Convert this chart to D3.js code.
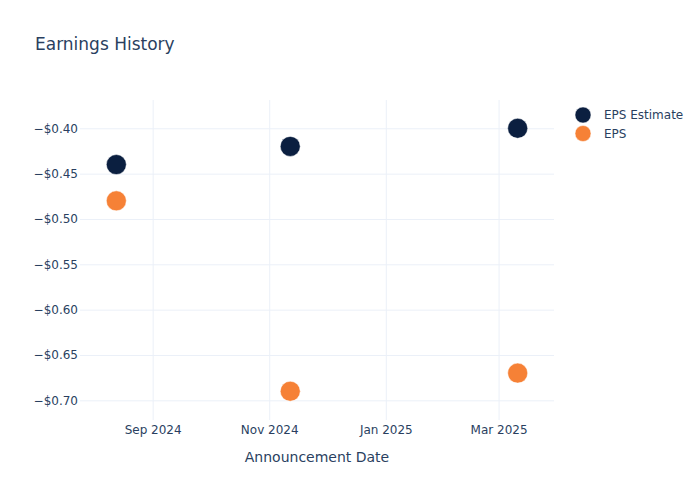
<!DOCTYPE html>
<html>
<head>
<meta charset="utf-8">
<script src="https://cdn.jsdelivr.net/npm/d3@7"></script>
<style>
  body { margin: 0; background: #fff; }
  svg { font-family: "DejaVu Sans", Verdana, sans-serif; }
</style>
</head>
<body>
<svg id="chart" width="700" height="500"></svg>
<script>
// ---- data ----
const dates = ["2024-08-13", "2024-11-12", "2025-03-11"];
const epsEstimate = [-0.44, -0.42, -0.40];
const epsActual = [-0.48, -0.69, -0.67];
const yTicks = [-0.40, -0.45, -0.50, -0.55, -0.60, -0.65, -0.70];
const xTicks = ["2024-09-01", "2024-11-01", "2025-01-01", "2025-03-01"];
const seriesNames = ["EPS Estimate", "EPS"];
const seriesColors = ["#0b1f40", "#f68136"];

// ---- layout ----
const margin = { left: 80, right: 146, top: 100, bottom: 80 };
const W = 700, H = 500;
const parse = d3.utcParse("%Y-%m-%d");
const svg = d3.select("#chart");
const textColor = "#2a3f5f";
const gridColor = "#ebf0f8";

const x = d3.scaleUtc()
  .domain([parse("2024-07-25"), parse("2025-03-30")])
  .range([margin.left, W - margin.right]);
const y = d3.scaleLinear()
  .domain([-0.7217, -0.3688])
  .range([H - margin.bottom, margin.top]);

// grid
const xAxis = d3.axisBottom(x)
  .tickValues(xTicks.map(parse))
  .tickFormat(d3.utcFormat("%b %Y"))
  .tickSize(-(H - margin.top - margin.bottom))
  .tickPadding(5);
const gx = svg.append("g")
  .attr("transform", `translate(0,${H - margin.bottom})`)
  .call(xAxis);
gx.select(".domain").remove();
gx.selectAll(".tick line").attr("stroke", gridColor).attr("stroke-width", 1);
gx.selectAll(".tick text").attr("fill", textColor).attr("font-size", 12)
  .attr("font-family", "DejaVu Sans, sans-serif");

const fmt = d => "\u2212$" + Math.abs(d).toFixed(2);
const yAxis = d3.axisLeft(y)
  .tickValues(yTicks)
  .tickFormat(fmt)
  .tickSize(-(W - margin.left - margin.right))
  .tickPadding(2);
const gy = svg.append("g")
  .attr("transform", `translate(${margin.left},0)`)
  .call(yAxis);
gy.select(".domain").remove();
gy.selectAll(".tick line").attr("stroke", gridColor).attr("stroke-width", 1);
gy.selectAll(".tick text").attr("fill", textColor).attr("font-size", 12)
  .attr("font-family", "DejaVu Sans, sans-serif");

// points
const series = [epsEstimate, epsActual];
series.forEach((vals, si) => {
  svg.append("g").selectAll("circle")
    .data(vals.map((v, i) => ({ d: parse(dates[i]), v })))
    .join("circle")
    .attr("cx", p => x(p.d))
    .attr("cy", p => y(p.v))
    .attr("r", 10)
    .attr("fill", seriesColors[si])
    .attr("stroke", "#fff")
    .attr("stroke-width", 0.5);
});

// title
svg.append("text")
  .attr("x", 35).attr("y", 50)
  .attr("fill", textColor)
  .attr("font-size", 17)
  .text("Earnings History");

// x axis title
svg.append("text")
  .attr("x", (margin.left + W - margin.right) / 2)
  .attr("y", 461.5)
  .attr("text-anchor", "middle")
  .attr("fill", textColor)
  .attr("font-size", 14)
  .text("Announcement Date");

// legend
const lg = svg.append("g");
seriesNames.forEach((name, i) => {
  const cy = 115 + i * 18.5;
  lg.append("circle").attr("cx", 583).attr("cy", cy).attr("r", 8)
    .attr("fill", seriesColors[i]).attr("stroke", "#fff").attr("stroke-width", 0.5);
  lg.append("text").attr("x", 604).attr("y", cy + 4)
    .attr("fill", textColor).attr("font-size", 12).text(name);
});
</script>
</body>
</html>
